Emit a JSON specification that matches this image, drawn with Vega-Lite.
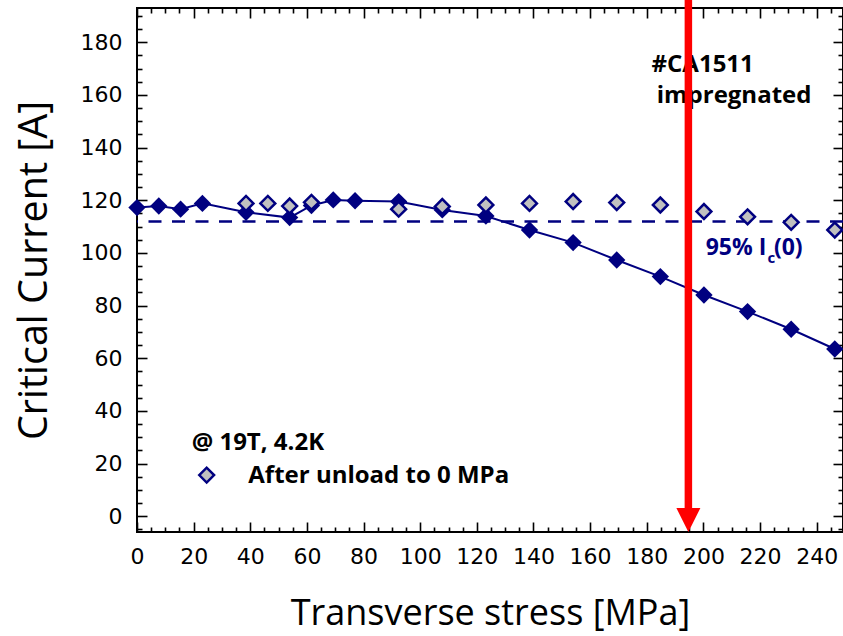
{
  "$schema": "https://vega.github.io/schema/vega-lite/v6.json",
  "width": 706,
  "height": 524,
  "autosize": {"type": "none"},
  "padding": {"left": 137, "top": 8, "right": 0, "bottom": 104},
  "background": "white",
  "view": {"stroke": "black", "strokeWidth": 2},
  "config": {
    "axis": {"domain": false, "grid": false, "ticks": true, "tickColor": "black", "tickWidth": 1.6, "labelFont": "DejaVu Sans", "labelFontSize": 22, "labelColor": "black", "titleFont": "Open Sans", "titleFontSize": 38, "titleFontWeight": "normal", "titleColor": "black", "labelFlush": false, "labelOverlap": false}
  },
  "datasets": {
    "filled": [
      {"stress": 0, "ic": 117.2}, {"stress": 7.7, "ic": 117.8}, {"stress": 15.4, "ic": 116.6}, {"stress": 23.1, "ic": 118.8},
      {"stress": 38.5, "ic": 115.4}, {"stress": 53.9, "ic": 113.4}, {"stress": 61.6, "ic": 118.0}, {"stress": 69.3, "ic": 120.1},
      {"stress": 77.0, "ic": 119.8}, {"stress": 92.4, "ic": 119.5}, {"stress": 107.8, "ic": 116.3}, {"stress": 123.2, "ic": 114.0},
      {"stress": 138.6, "ic": 108.7}, {"stress": 154.0, "ic": 103.9}, {"stress": 169.4, "ic": 97.3}, {"stress": 184.8, "ic": 91.0},
      {"stress": 200.2, "ic": 84.0}, {"stress": 215.6, "ic": 77.7}, {"stress": 231.0, "ic": 71.0}, {"stress": 246.4, "ic": 63.5}
    ],
    "unload": [
      {"stress": 38.5, "ic": 118.8}, {"stress": 46.2, "ic": 118.8}, {"stress": 53.9, "ic": 117.8}, {"stress": 61.6, "ic": 119.2},
      {"stress": 92.4, "ic": 116.6}, {"stress": 107.8, "ic": 117.6}, {"stress": 123.2, "ic": 118.2}, {"stress": 138.6, "ic": 118.8},
      {"stress": 154.0, "ic": 119.5}, {"stress": 169.4, "ic": 119.1}, {"stress": 184.8, "ic": 118.2}, {"stress": 200.2, "ic": 115.7},
      {"stress": 215.6, "ic": 113.7}, {"stress": 231.0, "ic": 111.6}, {"stress": 246.4, "ic": 108.7}
    ],
    "threshold": [{"ic": 111.9}],
    "legendSymbol": [{"stress": 24.6, "ic": 15.6}],
    "blackText": [
      {"stress": 181.7, "ic": 168.8, "label": "#CA1511"},
      {"stress": 183.5, "ic": 157.0, "label": "impregnated"},
      {"stress": 19.3, "ic": 25.1, "label": "@ 19T, 4.2K"},
      {"stress": 39.3, "ic": 12.5, "label": "After unload to 0 MPa"}
    ],
    "navyText": [
      {"stress": 200.8, "ic": 99.2, "label": "95% I"},
      {"stress": 224.9, "ic": 99.2, "label": "(0)"}
    ],
    "subText": [{"stress": 222.6, "ic": 96.0, "label": "c"}],
    "arrow": [{"stress": 194.7, "ic": 196.5, "ic2": 3.1}],
    "arrowHead": [{"stress": 194.7, "ic": -1.45}]
  },
  "resolve": {"axis": {"x": "independent", "y": "independent"}},
  "layer": [
    {
      "data": {"name": "threshold"},
      "mark": {"type": "rule", "color": "#000080", "strokeWidth": 2.5, "strokeDash": [13, 10.5]},
      "encoding": {
        "y": {"field": "ic", "type": "quantitative", "scale": {"domain": [-6, 193], "nice": false, "zero": false}, "axis": null}
      }
    },
    {
      "data": {"name": "filled"},
      "mark": {"type": "line", "color": "#000080", "strokeWidth": 2},
      "encoding": {
        "x": {"field": "stress", "type": "quantitative", "scale": {"domain": [0, 249.3], "nice": false, "zero": false},
          "axis": {"orient": "bottom", "values": [0, 20, 40, 60, 80, 100, 120, 140, 160, 180, 200, 220, 240], "offset": -10, "tickSize": 10, "labelPadding": 14, "title": "Transverse stress [MPa]", "titleFontSize": 36, "titlePadding": 29}},
        "y": {"field": "ic", "type": "quantitative", "scale": {"domain": [-6, 193], "nice": false, "zero": false},
          "axis": {"orient": "left", "values": [0, 20, 40, 60, 80, 100, 120, 140, 160, 180], "offset": -10, "tickSize": 10, "labelPadding": 15, "title": "Critical Current [A]", "titleFontSize": 39.5, "titlePadding": 26}}
      }
    },
    {
      "data": {"name": "filled"},
      "mark": {"type": "point", "shape": "diamond", "filled": true, "color": "#000080", "size": 300, "opacity": 1},
      "encoding": {
        "x": {"field": "stress", "type": "quantitative", "scale": {"domain": [0, 249.3], "nice": false, "zero": false},
          "axis": {"orient": "bottom", "values": [5, 10, 15, 25, 30, 35, 45, 50, 55, 65, 70, 75, 85, 90, 95, 105, 110, 115, 125, 130, 135, 145, 150, 155, 165, 170, 175, 185, 190, 195, 205, 210, 215, 225, 230, 235, 245], "offset": -5, "tickSize": 5, "labels": false, "title": null}},
        "y": {"field": "ic", "type": "quantitative", "scale": {"domain": [-6, 193], "nice": false, "zero": false},
          "axis": {"orient": "left", "values": [-5, 5, 10, 15, 25, 30, 35, 45, 50, 55, 65, 70, 75, 85, 90, 95, 105, 110, 115, 125, 130, 135, 145, 150, 155, 165, 170, 175, 185, 190], "offset": -5, "tickSize": 5, "labels": false, "title": null}}
      }
    },
    {
      "data": {"name": "unload"},
      "mark": {"type": "point", "shape": "diamond", "filled": true, "fill": "#c0c0c0", "stroke": "#000080", "strokeWidth": 2.5, "size": 220, "opacity": 1},
      "encoding": {
        "x": {"field": "stress", "type": "quantitative", "scale": {"domain": [0, 249.3], "nice": false, "zero": false},
          "axis": {"orient": "top", "values": [0, 20, 40, 60, 80, 100, 120, 140, 160, 180, 200, 220, 240], "offset": -10, "tickSize": 10, "labels": false, "title": null}},
        "y": {"field": "ic", "type": "quantitative", "scale": {"domain": [-6, 193], "nice": false, "zero": false},
          "axis": {"orient": "right", "values": [0, 20, 40, 60, 80, 100, 120, 140, 160, 180], "offset": -10, "tickSize": 10, "labels": false, "title": null}}
      }
    },
    {
      "data": {"name": "legendSymbol"},
      "mark": {"type": "point", "shape": "diamond", "filled": true, "fill": "#c0c0c0", "stroke": "#000080", "strokeWidth": 2.5, "size": 220, "opacity": 1},
      "encoding": {
        "x": {"field": "stress", "type": "quantitative", "scale": {"domain": [0, 249.3], "nice": false, "zero": false},
          "axis": {"orient": "top", "values": [5, 10, 15, 25, 30, 35, 45, 50, 55, 65, 70, 75, 85, 90, 95, 105, 110, 115, 125, 130, 135, 145, 150, 155, 165, 170, 175, 185, 190, 195, 205, 210, 215, 225, 230, 235, 245], "offset": -5, "tickSize": 5, "labels": false, "title": null}},
        "y": {"field": "ic", "type": "quantitative", "scale": {"domain": [-6, 193], "nice": false, "zero": false},
          "axis": {"orient": "right", "values": [-5, 5, 10, 15, 25, 30, 35, 45, 50, 55, 65, 70, 75, 85, 90, 95, 105, 110, 115, 125, 130, 135, 145, 150, 155, 165, 170, 175, 185, 190], "offset": -5, "tickSize": 5, "labels": false, "title": null}}
      }
    },
    {
      "data": {"name": "blackText"},
      "mark": {"type": "text", "font": "Open Sans", "fontWeight": "bold", "fontSize": 24, "color": "black", "align": "left", "baseline": "alphabetic"},
      "encoding": {
        "x": {"field": "stress", "type": "quantitative", "axis": null},
        "y": {"field": "ic", "type": "quantitative", "axis": null},
        "text": {"field": "label"}
      }
    },
    {
      "data": {"name": "navyText"},
      "mark": {"type": "text", "font": "Open Sans", "fontWeight": "bold", "fontSize": 23, "color": "#000080", "align": "left", "baseline": "alphabetic"},
      "encoding": {
        "x": {"field": "stress", "type": "quantitative", "axis": null},
        "y": {"field": "ic", "type": "quantitative", "axis": null},
        "text": {"field": "label"}
      }
    },
    {
      "data": {"name": "subText"},
      "mark": {"type": "text", "font": "Open Sans", "fontWeight": "bold", "fontSize": 15, "color": "#000080", "align": "left", "baseline": "alphabetic"},
      "encoding": {
        "x": {"field": "stress", "type": "quantitative", "axis": null},
        "y": {"field": "ic", "type": "quantitative", "axis": null},
        "text": {"field": "label"}
      }
    },
    {
      "data": {"name": "arrow"},
      "mark": {"type": "rule", "color": "#ff0000", "strokeWidth": 7.5},
      "encoding": {
        "x": {"field": "stress", "type": "quantitative", "axis": null},
        "y": {"field": "ic", "type": "quantitative", "axis": null},
        "y2": {"field": "ic2"}
      }
    },
    {
      "data": {"name": "arrowHead"},
      "mark": {"type": "point", "shape": "M-1,-1L1,-1L0,1Z", "filled": true, "color": "#ff0000", "size": 576, "opacity": 1, "strokeWidth": 0},
      "encoding": {
        "x": {"field": "stress", "type": "quantitative", "axis": null},
        "y": {"field": "ic", "type": "quantitative", "axis": null}
      }
    }
  ]
}
